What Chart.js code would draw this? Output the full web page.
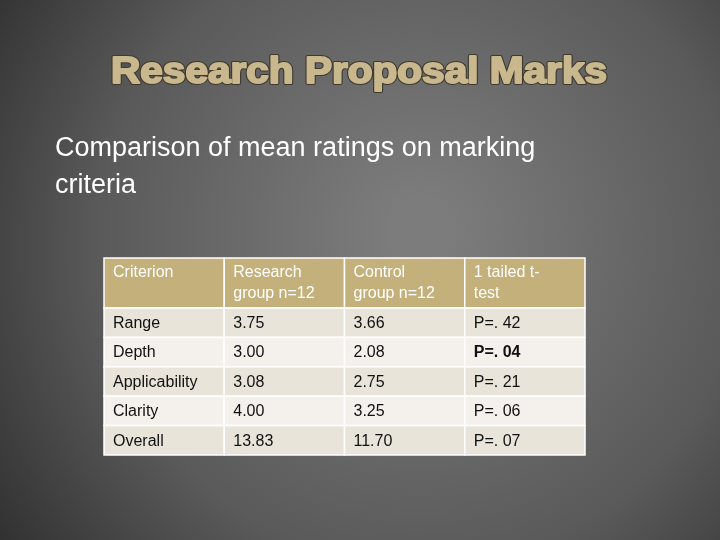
<!DOCTYPE html>
<html><head><meta charset="utf-8">
<script src="https://cdn.jsdelivr.net/npm/chart.js@4"></script>
<style>html,body{margin:0;padding:0;background:#444}canvas{display:block}</style>
</head><body>
<div style="width:720px;height:540px"><canvas id="c"></canvas></div>
<script>
const headers = ["Criterion", "Research\ngroup n=12", "Control\ngroup n=12", "1 tailed t-\ntest"];
const criteria = ["Range", "Depth", "Applicability", "Clarity", "Overall"];
const researchGroup = ["3.75", "3.00", "3.08", "4.00", "13.83"];
const controlGroup = ["3.66", "2.08", "2.75", "3.25", "11.70"];
const pValues = ["P=. 42", "P=. 04", "P=. 21", "P=. 06", "P=. 07"];
const boldP = [false, true, false, false, false];
const HEAD = 1.7;

const tablePlugin = {
  id: 'table',
  beforeDraw(chart) {
    const ctx = chart.ctx, W = chart.width, H = chart.height;
    const g = ctx.createRadialGradient(420, 230, 30, 420, 260, 560);
    g.addColorStop(0, '#7c7c7c'); g.addColorStop(0.55, '#5a5a5a'); g.addColorStop(1, '#262626');
    ctx.fillStyle = g; ctx.fillRect(0, 0, W, H);
    ctx.save();
    ctx.font = 'bold 36px "Liberation Sans"';
    const t = 'Research Proposal Marks';
    const w = ctx.measureText(t).width;
    ctx.translate(359, 73); ctx.scale(496 / w, 1);
    ctx.textAlign = 'center'; ctx.textBaseline = 'middle';
    ctx.lineJoin = 'round';
    ctx.lineWidth = 4; ctx.strokeStyle = '#3e392c'; ctx.strokeText(t, 0, 0);
    ctx.lineWidth = 2; ctx.strokeStyle = '#c9b88e'; ctx.strokeText(t, 0, 0);
    ctx.fillStyle = '#c9b88e'; ctx.fillText(t, 0, 0);
    ctx.restore();
    ctx.fillStyle = '#ffffff'; ctx.font = '27px "Liberation Sans"';
    ctx.textAlign = 'left'; ctx.textBaseline = 'middle';
    ctx.fillText('Comparison of mean ratings on marking', 55, 149);
    ctx.fillText('criteria', 55, 186);
  },
  afterDraw(chart) {
    const ctx = chart.ctx, xs = chart.scales.x, ys = chart.scales.y;
    const cols = [criteria, researchGroup, controlGroup, pValues];
    const cell = (c, y0, y1, fill) => {
      const x0 = xs.getPixelForValue(c), x1 = xs.getPixelForValue(c + 1);
      const p0 = ys.getPixelForValue(y0), p1 = ys.getPixelForValue(y1);
      ctx.fillStyle = fill; ctx.fillRect(x0, p0, x1 - x0, p1 - p0);
      ctx.strokeStyle = '#ffffff'; ctx.lineWidth = 1.5; ctx.strokeRect(x0, p0, x1 - x0, p1 - p0);
      return [x0, p0, p1];
    };
    ctx.textAlign = 'left';
    for (let c = 0; c < 4; c++) {
      const [x0, p0] = cell(c, 0, HEAD, '#c4b07a');
      ctx.fillStyle = '#ffffff'; ctx.font = '16px "Liberation Sans"'; ctx.textBaseline = 'middle';
      headers[c].split('\n').forEach((l, i) => ctx.fillText(l, x0 + 9, p0 + 15 + i * 21));
      for (let r = 0; r < criteria.length; r++) {
        const [cx, q0, q1] = cell(c, HEAD + r, HEAD + r + 1, r % 2 === 0 ? '#e9e4da' : '#f4f1ec');
        ctx.fillStyle = '#111111';
        ctx.font = (c === 3 && boldP[r] ? 'bold ' : '') + '16px "Liberation Sans"';
        ctx.fillText(cols[c][r], cx + 9, (q0 + q1) / 2 + 1);
      }
    }
  }
};

new Chart(document.getElementById('c'), {
  type: 'scatter',
  data: { datasets: [{ data: [] }] },
  options: {
    responsive: true, maintainAspectRatio: false, animation: false,
    layout: { padding: { left: 104, right: 135, top: 258, bottom: 85 } },
    plugins: { legend: { display: false }, tooltip: { enabled: false } },
    scales: {
      x: { type: 'linear', min: 0, max: 4, display: false },
      y: { type: 'linear', min: 0, max: HEAD + criteria.length, reverse: true, display: false }
    }
  },
  plugins: [tablePlugin]
});
</script>
</body></html>
